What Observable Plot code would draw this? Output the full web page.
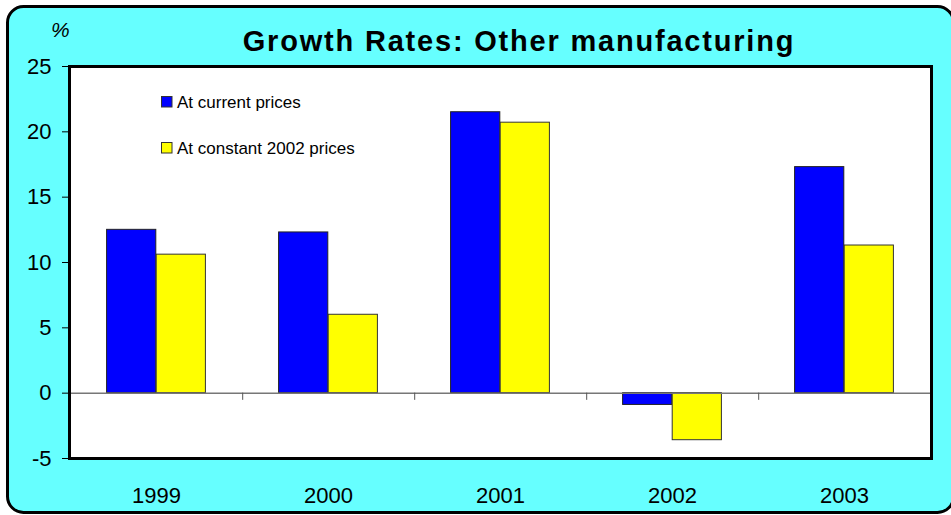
<!DOCTYPE html>
<html>
<head>
<meta charset="utf-8">
<script src="https://cdn.jsdelivr.net/npm/d3@7"></script>
<script src="https://cdn.jsdelivr.net/npm/@observablehq/plot@0.6"></script>
<style>
  html, body { margin: 0; padding: 0; background: #ffffff; }
  #chart svg { display: block; }
</style>
</head>
<body>
<div id="chart"></div>
<script>
// ---- data ----
const years = ["1999", "2000", "2001", "2002", "2003"];
const currentPrices = [12.5, 12.3, 21.5, -0.9, 17.3];
const constantPrices = [10.6, 6.0, 20.7, -3.6, 11.3];
const seriesNames = ["At current prices", "At constant 2002 prices"];
const yTicks = [-5, 0, 5, 10, 15, 20, 25];
const titleText = "Growth Rates: Other manufacturing";
const unitText = "%";

// ---- layout / style ----
const W = 951, H = 515;
const mL = 69, mR = 20, mT = 66, mB = 57;
const band = (W - mL - mR) / years.length;
const barW = 49.6;
const FONT = "'Liberation Sans', Arial, Helvetica, sans-serif";
const BLUE = "#0000ff", YELLOW = "#ffff00", CYAN = "#66ffff";

const rows = years.map((y, i) => ({year: y, cur: currentPrices[i], con: constantPrices[i]}));

const chart = Plot.plot({
  width: W,
  height: H,
  marginLeft: mL,
  marginRight: mR,
  marginTop: mT,
  marginBottom: mB,
  style: {fontFamily: FONT, fontSize: "22px", color: "#000", background: "transparent", overflow: "visible"},
  x: {type: "band", domain: years, padding: 0, tickSize: 0, tickPadding: 29, label: null},
  y: {domain: [-5, 25], ticks: yTicks, tickSize: 7, tickPadding: 11, label: null, tickFormat: d => String(d)},
  marks: [
    Plot.frame({fill: "white", stroke: "none"}),
    Plot.barY(rows, {x: "year", y: "cur", fill: BLUE, stroke: "#222", strokeWidth: 1,
      insetLeft: band / 2 - barW, insetRight: band / 2}),
    Plot.barY(rows, {x: "year", y: "con", fill: YELLOW, stroke: "#333", strokeWidth: 1,
      insetLeft: band / 2, insetRight: band / 2 - barW}),
    Plot.ruleY([0], {stroke: "#777", strokeWidth: 1.5}),
    Plot.ruleX(years.slice(0, -1), {x: d => d, y1: 0, y2: -0.55, dx: band / 2, stroke: "#555", strokeWidth: 1}),
    Plot.frame({stroke: "black", strokeWidth: 3})
  ]
});

const svg = d3.select(chart);
// outer cyan rounded panel behind everything
svg.insert("rect", ":first-child")
  .attr("x", 7.5).attr("y", 6.5)
  .attr("width", 946).attr("height", 506)
  .attr("rx", 16).attr("ry", 16)
  .attr("fill", CYAN).attr("stroke", "#000").attr("stroke-width", 3);

// title
svg.append("text")
  .attr("x", 519).attr("y", 51)
  .attr("text-anchor", "middle")
  .attr("font-family", FONT).attr("font-weight", "bold").attr("font-size", 29)
  .attr("letter-spacing", 1.8)
  .attr("fill", "#000")
  .text(titleText);

// unit label
svg.append("text")
  .attr("x", 51).attr("y", 37)
  .attr("text-anchor", "start")
  .attr("font-family", FONT).attr("font-style", "italic").attr("font-size", 21)
  .attr("fill", "#000")
  .text(unitText);

// legend
const legendColors = [BLUE, YELLOW];
seriesNames.forEach((name, i) => {
  const cy = 102 + i * 46;
  svg.append("rect")
    .attr("x", 161.5).attr("y", cy - 5.5).attr("width", 10.5).attr("height", 10.5)
    .attr("fill", legendColors[i]).attr("stroke", "#333").attr("stroke-width", 1);
  svg.append("text")
    .attr("x", 177).attr("y", cy).attr("dy", "0.35em")
    .attr("text-anchor", "start")
    .attr("font-family", FONT).attr("font-size", 17).attr("fill", "#000")
    .text(name);
});

document.getElementById("chart").appendChild(chart);
</script>
</body>
</html>
